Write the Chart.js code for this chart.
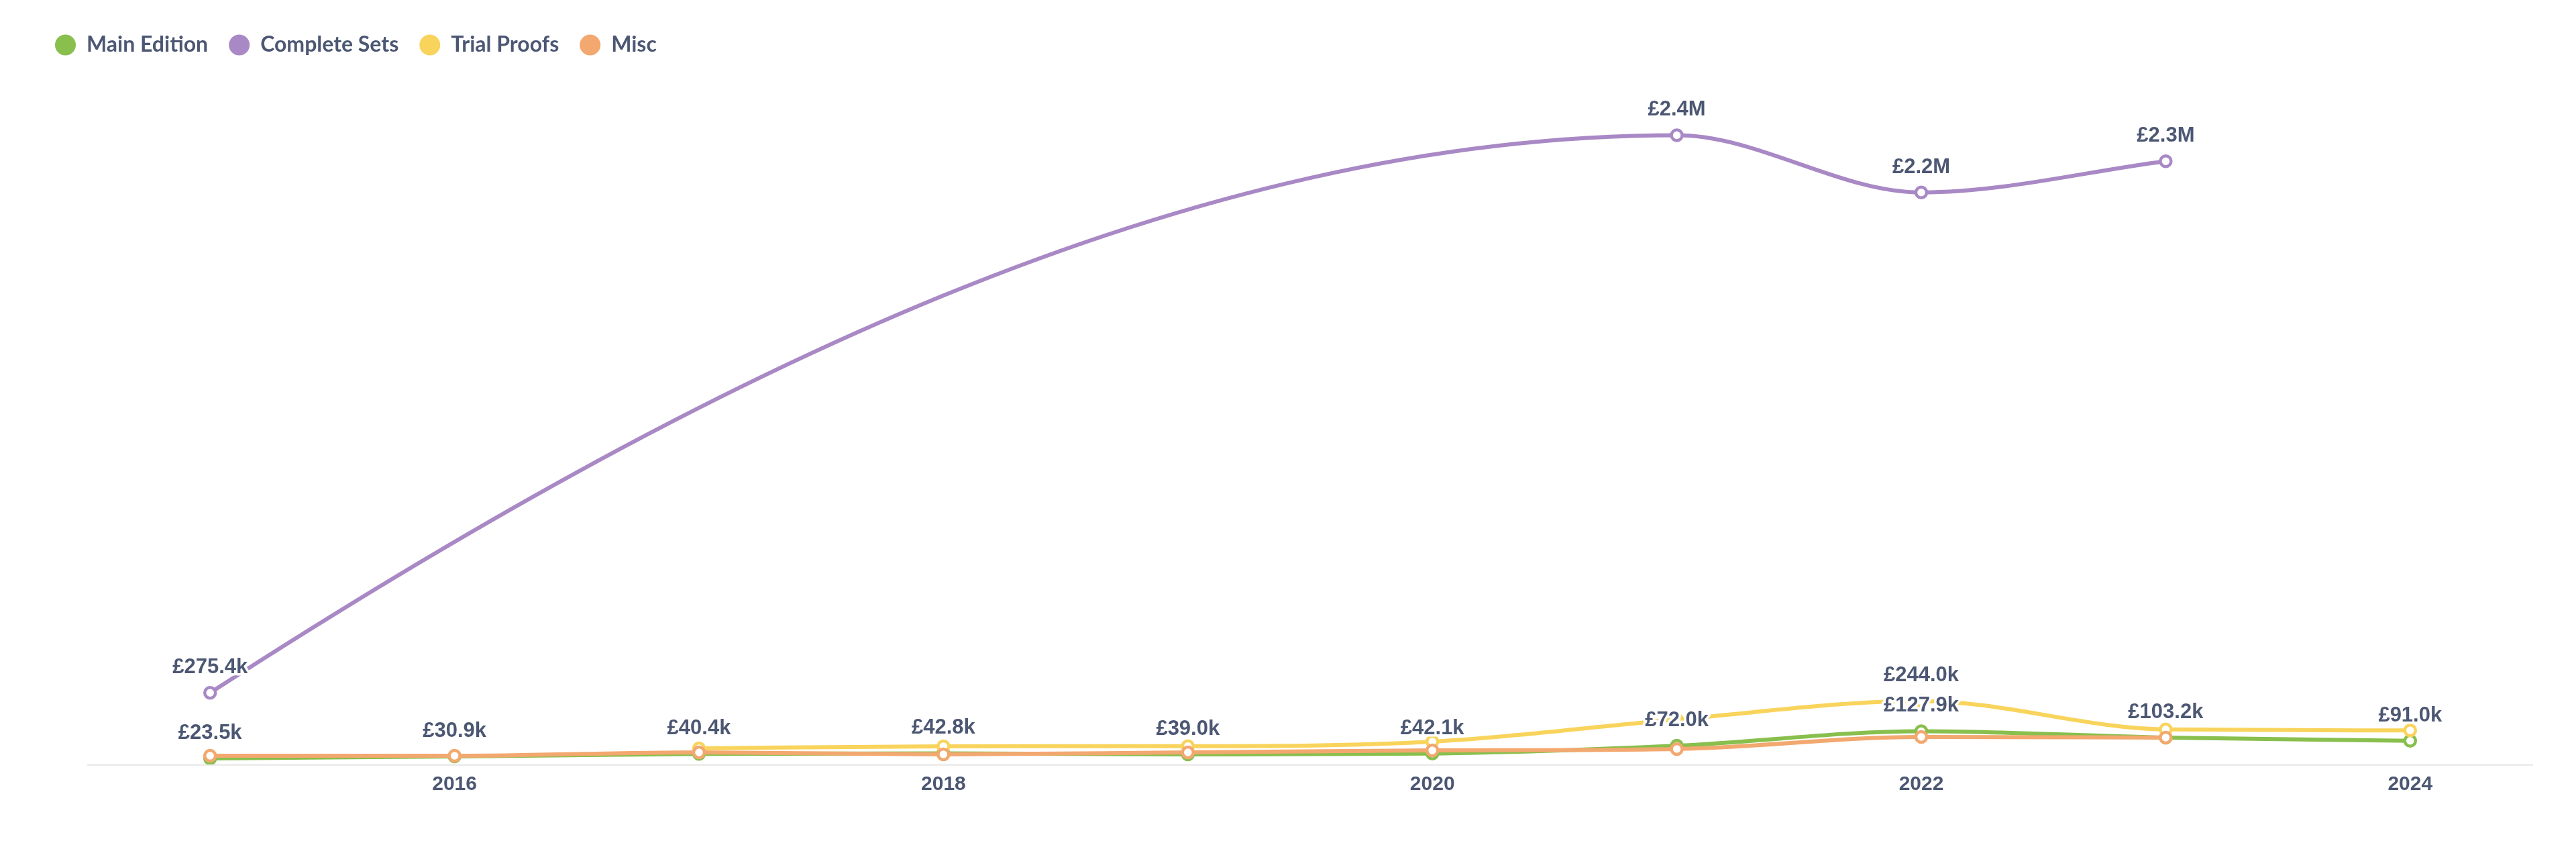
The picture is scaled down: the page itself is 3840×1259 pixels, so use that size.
<!DOCTYPE html>
<html>
<head>
<meta charset="utf-8">
<title>Sales by year</title>
<script src="https://cdn.jsdelivr.net/npm/chart.js@4.4.1/dist/chart.umd.min.js"></script>
<style>
  html, body { margin: 0; padding: 0; background: #ffffff; }
  #wrap { width: 3840px; height: 1259px; position: relative; }
</style>
</head>
<body>
<div id="wrap"><canvas id="chart"></canvas></div>
<script>
// Data
const years = [2015, 2016, 2017, 2018, 2019, 2020, 2021, 2022, 2023, 2024];
const mainEdition = [23500, 30900, 40400, 42800, 39000, 42100, 72000, 127900, 103200, 91000];
const completeSets = [275400, null, null, null, null, null, 2420000, 2200000, 2320000, null];
const trialProofs = [null, null, 62000, 70000, 70500, 88000, 173000, 244000, 135000, 131000];
const misc = [33500, 33500, 46500, 38800, 46500, 54000, 59500, 106000, 103500, null];

// Which years carry a value label in the picture
const mainEditionLabelYears = years;
const completeSetsLabelYears = [2015, 2021, 2022, 2023];
const trialProofsLabelYears = [2022];
const miscLabelYears = [];

const colors = ['#88BF4D', '#A989C5', '#F9D45C', '#F2A86F'];
const textColor = '#4C5773';

function formatGBP(v) {
  if (v >= 1e6) return '£' + (v / 1e6).toFixed(1) + 'M';
  return '£' + (v / 1e3).toFixed(1) + 'k';
}

function makeSeries(label, data, color, labelYears, order) {
  return {
    label: label,
    data: data,
    borderColor: color,
    backgroundColor: color,
    borderWidth: 6,
    pointRadius: 8,
    pointHoverRadius: 8,
    pointBorderWidth: 4.5,
    pointBackgroundColor: '#ffffff',
    pointBorderColor: color,
    cubicInterpolationMode: 'monotone',
    spanGaps: true,
    fill: false,
    order: order,
    labelYears: labelYears
  };
}

// steeper start for the long gap-spanning curve (matches the source's smoothing)
const startTangent = {
  id: 'startTangent',
  beforeDatasetsDraw(chart) {
    chart.data.datasets.forEach((ds, di) => {
      if (!ds.startBoost) return;
      const meta = chart.getDatasetMeta(di);
      const line = meta.dataset;
      line.updateControlPoints(chart.chartArea, 'x');
      const first = meta.data.find(p => !p.skip);
      if (first) {
        first.cp2y = first.y + ds.startBoost * (first.cp2y - first.y);
      }
      line._path = undefined;
    });
  }
};

const valueLabels = {
  id: 'valueLabels',
  afterDatasetsDraw(chart) {
    const ctx = chart.ctx;
    ctx.save();
    ctx.font = 'bold 31px "Liberation Sans", Arial, sans-serif';
    ctx.textAlign = 'center';
    ctx.textBaseline = 'alphabetic';
    ctx.lineJoin = 'round';
    ctx.lineWidth = 7;
    ctx.strokeStyle = '#ffffff';
    ctx.fillStyle = textColor;
    chart.data.datasets.forEach((ds, di) => {
      const meta = chart.getDatasetMeta(di);
      meta.data.forEach((pt, i) => {
        const v = ds.data[i];
        if (v == null || !ds.labelYears.includes(years[i])) return;
        const text = formatGBP(v);
        ctx.strokeText(text, pt.x, pt.y - 29);
        ctx.fillText(text, pt.x, pt.y - 29);
      });
    });
    ctx.restore();
  }
};

const purple = makeSeries('Complete Sets', completeSets, colors[1], completeSetsLabelYears, 3);
purple.startBoost = 1.7;

const ctx = document.getElementById('chart').getContext('2d');
new Chart(ctx, {
  type: 'line',
  data: {
    labels: years,
    datasets: [
      makeSeries('Main Edition', mainEdition, colors[0], mainEditionLabelYears, 4),
      purple,
      makeSeries('Trial Proofs', trialProofs, colors[2], trialProofsLabelYears, 2),
      makeSeries('Misc', misc, colors[3], miscLabelYears, 1)
    ]
  },
  options: {
    responsive: true,
    maintainAspectRatio: false,
    devicePixelRatio: 1,
    animation: false,
    layout: {
      padding: { top: 20, left: 51, right: 65, bottom: 68 }
    },
    scales: {
      x: {
        type: 'category',
        offset: true,
        grid: { display: false },
        border: { display: true, color: '#EDEDED', width: 3 },
        ticks: {
          autoSkip: false,
          maxRotation: 0,
          padding: 4,
          color: textColor,
          font: { family: '"Liberation Sans", Arial, sans-serif', weight: 'bold', size: 30 },
          callback: function (value, index) {
            const y = years[index];
            return y % 2 === 0 ? String(y) : '';
          }
        }
      },
      y: {
        min: 0,
        max: 2700000,
        grid: { display: false },
        border: { display: false },
        ticks: { display: false },
        afterFit: function (scale) { scale.width = 80; }
      }
    },
    plugins: {
      legend: {
        position: 'top',
        align: 'start',
        labels: {
          usePointStyle: true,
          pointStyleWidth: 31,
          boxHeight: 22,
          padding: 31,
          color: textColor,
          font: { family: 'Lato', weight: 'bold', size: 32 },
          sort: (a, b) => a.datasetIndex - b.datasetIndex,
          generateLabels: function (chart) {
            return Chart.defaults.plugins.legend.labels.generateLabels(chart).map(item => {
              item.lineWidth = 0;
              item.fillStyle = colors[item.datasetIndex];
              item.strokeStyle = colors[item.datasetIndex];
              item.pointStyle = 'circle';
              return item;
            });
          }
        }
      },
      tooltip: { enabled: false }
    }
  },
  plugins: [startTangent, valueLabels]
});
</script>
</body>
</html>
